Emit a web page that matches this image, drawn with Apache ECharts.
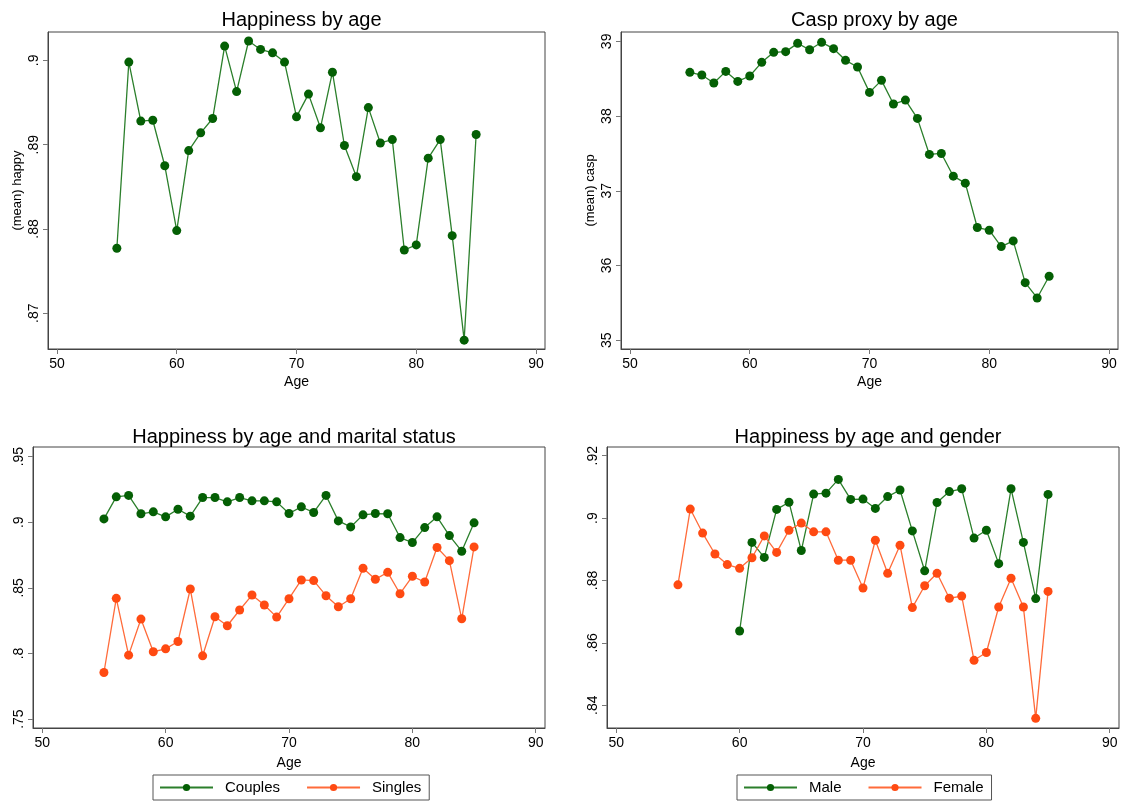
<!DOCTYPE html>
<html>
<head>
<meta charset="utf-8">
<script src="https://cdn.jsdelivr.net/npm/echarts@6/dist/echarts.min.js"></script>
<style>
html,body{margin:0;padding:0;background:#fff;}
#chart{width:1121px;height:801px;}
</style>
</head>
<body>
<div id="chart"></div>
<script>
// ---- Data ----
var ages = [55,56,57,58,59,60,61,62,63,64,65,66,67,68,69,70,71,72,73,74,75,76,77,78,79,80,81,82,83,84,85];

var happyAll = [0.8777,0.8998,0.8928,0.8929,0.8875,0.8798,0.8893,0.8914,0.8931,0.9017,0.8963,0.9023,0.9013,0.9009,0.8998,0.8933,0.8960,0.8920,0.8986,0.8899,0.8862,0.8944,0.8902,0.8906,0.8775,0.8781,0.8884,0.8906,0.8792,0.8668,0.8912];

var caspAll = [38.585,38.549,38.442,38.598,38.464,38.536,38.719,38.853,38.862,38.973,38.888,38.987,38.902,38.746,38.656,38.317,38.478,38.161,38.214,37.969,37.487,37.500,37.196,37.103,36.509,36.473,36.254,36.330,35.772,35.567,35.857];

var couples = [0.9025,0.9193,0.9204,0.9064,0.9079,0.9041,0.9099,0.9046,0.9188,0.9188,0.9155,0.9188,0.9163,0.9163,0.9155,0.9066,0.9117,0.9074,0.9204,0.9010,0.8964,0.9056,0.9066,0.9064,0.8883,0.8845,0.8959,0.9041,0.8898,0.8779,0.8995];

var singles = [0.7855,0.8420,0.7987,0.8262,0.8013,0.8035,0.8091,0.8491,0.7982,0.8280,0.8211,0.8331,0.8445,0.8369,0.8277,0.8417,0.8560,0.8555,0.8440,0.8356,0.8417,0.8649,0.8565,0.8618,0.8455,0.8588,0.8544,0.8807,0.8707,0.8264,0.8812];

var male = [null,null,null,null,null,0.8638,0.8922,0.8874,0.9028,0.9051,0.8896,0.9077,0.9080,0.9124,0.9060,0.9061,0.9031,0.9069,0.9090,0.8959,0.8831,0.9050,0.9085,0.9094,0.8936,0.8961,0.8854,0.9094,0.8922,0.8742,0.9076];

var female = [0.8786,0.9029,0.8952,0.8885,0.8851,0.8839,0.8873,0.8943,0.8890,0.8961,0.8984,0.8956,0.8956,0.8865,0.8865,0.8776,0.8929,0.8823,0.8913,0.8713,0.8783,0.8823,0.8743,0.8750,0.8544,0.8569,0.8715,0.8807,0.8715,0.8358,0.8765];

var xTicks = [50,60,70,80,90];
var yTicks1 = [0.87,0.88,0.89,0.9];
var yTicks2 = [35,36,37,38,39];
var yTicks3 = [0.75,0.8,0.85,0.9,0.95];
var yTicks4 = [0.84,0.86,0.88,0.9,0.92];

var titles = ['Happiness by age','Casp proxy by age','Happiness by age and marital status','Happiness by age and gender'];

// ---- Styling ----
var FONT = '"Liberation Sans", Arial, Helvetica, sans-serif';
var GREEN_M = '#045f04', GREEN_L = '#2b7f2b';
var ORANGE_M = '#ff4a12', ORANGE_L = '#ff6b3a';

function pairs(vals){ return ages.map(function(a,i){ return [a, vals[i]]; }); }
function fmtDec(v){ var s = String(+v.toFixed(4)); return s.replace(/^0\./,'.'); }

var grids = [
  {left:48, top:32, width:497, height:317},
  {left:621, top:32, width:497, height:317},
  {left:33, top:447, width:512, height:281},
  {left:607, top:447, width:512, height:281}
];
grids.forEach(function(g){ g.show = true; g.borderColor = '#444'; g.borderWidth = 1; g.backgroundColor = '#fff'; });

function xAxis(i){
  return {
    type:'value', gridIndex:i, min:49.25, max:90.75,
    name:'Age', nameLocation:'middle', nameGap:(i<2 ? 26 : 28),
    nameTextStyle:{fontFamily:FONT, fontSize:14, color:'#000'},
    axisLine:{show:true, onZero:false, lineStyle:{color:'#444', width:1}},
    axisTick:{show:true, length:5, customValues:xTicks, lineStyle:{color:'#777'}},
    axisLabel:{customValues:xTicks, fontFamily:FONT, fontSize:14, color:'#000', margin:8},
    splitLine:{show:false}
  };
}
function yAxis(i, mn, mx, ticks, name, fmt){
  return {
    type:'value', gridIndex:i, min:mn, max:mx,
    name:name || '', nameLocation:'middle', nameGap:24, nameRotate:90,
    nameTextStyle:{fontFamily:FONT, fontSize:13, color:'#000'},
    axisLine:{show:true, onZero:false, lineStyle:{color:'#444', width:1}},
    axisTick:{show:true, length:5, customValues:ticks, lineStyle:{color:'#777'}},
    axisLabel:{customValues:ticks, rotate:90, fontFamily:FONT, fontSize:14, color:'#000', margin:7,
      formatter: fmt},
    splitLine:{show:false}
  };
}

function lineSeries(name, data, xi, mc, lc){
  return {
    name:name, type:'line', xAxisIndex:xi, yAxisIndex:xi, data:pairs(data),
    symbol:'circle', symbolSize:9, showSymbol:true,
    itemStyle:{color:mc}, lineStyle:{color:lc, width:1.3},
    connectNulls:false, z:3
  };
}

var titleCfg = grids.map(function(g, i){
  return {
    text: titles[i], left: g.left + g.width/2, top: (i<2 ? 5 : 422), textAlign:'center',
    textStyle:{fontFamily:FONT, fontSize:20, fontWeight:'normal', color:'#000'}
  };
});

var legendBase = {
  orient:'horizontal', top:775, itemWidth:53, itemHeight:9, itemGap:26,
  borderColor:'#555', borderWidth:1, padding:[5,8,5,6],
  textStyle:{fontFamily:FONT, fontSize:15, color:'#000', padding:[0,0,0,7]},
  backgroundColor:'#fff'
};

var option = {
  animation:false,
  backgroundColor:'#fff',
  title: titleCfg,
  grid: grids,
  xAxis: [xAxis(0), xAxis(1), xAxis(2), xAxis(3)],
  yAxis: [
    yAxis(0, 0.86575, 0.90337, yTicks1, '(mean) happy', fmtDec),
    yAxis(1, 34.884, 39.125, yTicks2, '(mean) casp', function(v){ return String(Math.round(v)); }),
    yAxis(2, 0.7432, 0.9573, yTicks3, '', fmtDec),
    yAxis(3, 0.8327, 0.9228, yTicks4, '', fmtDec)
  ],
  legend: [
    Object.assign({}, legendBase, {left:153, data:['Couples','Singles']}),
    Object.assign({}, legendBase, {left:737, data:['Male','Female']})
  ],
  series: [
    lineSeries('Happiness', happyAll, 0, GREEN_M, GREEN_L),
    lineSeries('Casp', caspAll, 1, GREEN_M, GREEN_L),
    lineSeries('Couples', couples, 2, GREEN_M, GREEN_L),
    lineSeries('Singles', singles, 2, ORANGE_M, ORANGE_L),
    lineSeries('Male', male, 3, GREEN_M, GREEN_L),
    lineSeries('Female', female, 3, ORANGE_M, ORANGE_L)
  ]
};

var chart = echarts.init(document.getElementById('chart'), null, {renderer:'canvas'});
chart.setOption(option);
</script>
</body>
</html>
